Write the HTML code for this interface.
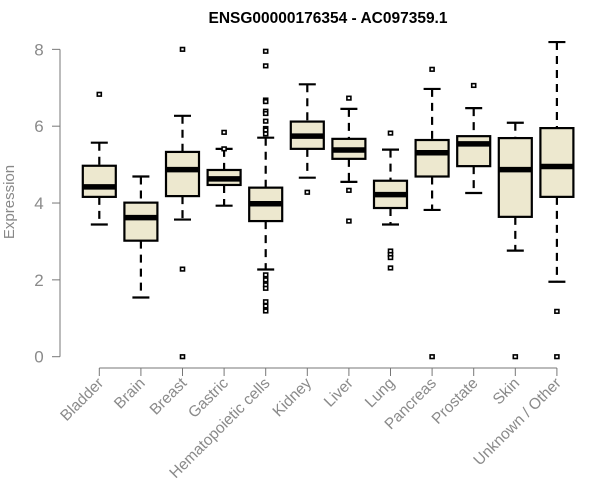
<!DOCTYPE html>
<html><head><meta charset="utf-8"><style>
body{margin:0;background:#fff}
svg{display:block;font-family:"Liberation Sans",Arial,sans-serif}
</style></head><body>
<svg id="chart" width="600" height="500">
<text x="328" y="23" text-anchor="middle" font-weight="bold" font-size="15.5">ENSG00000176354 - AC097359.1</text>
<text transform="translate(14,202) rotate(-90)" text-anchor="middle" font-size="15" fill="#888">Expression</text>
<g id="yaxis"></g>
<g id="xaxis"></g>
<g id="boxes"></g>
</svg>
<script>
const categories=["Bladder","Brain","Breast","Gastric","Hematopoietic cells","Kidney","Liver","Lung","Pancreas","Prostate","Skin","Unknown / Other"];
const whiskerLow=[3.44,1.54,3.57,3.93,2.27,4.66,4.55,3.44,3.82,4.26,2.76,1.95];
const q1=[4.16,3.02,4.18,4.47,3.53,5.41,5.15,3.87,4.69,4.96,3.64,4.16];
const median=[4.42,3.62,4.87,4.63,3.98,5.74,5.38,4.22,5.31,5.54,4.87,4.95];
const q3=[4.97,4.01,5.33,4.86,4.40,6.12,5.67,4.58,5.64,5.74,5.69,5.95];
const whiskerHigh=[5.57,4.69,6.27,5.41,5.70,7.09,6.45,5.39,6.97,6.47,6.09,8.19];
const outliers=[[6.83],[],[8.0,2.28,0],[5.84,5.41],[7.95,7.57,6.68,6.64,6.39,6.33,6.13,5.94,5.9,5.8,2.13,2.0,1.87,1.78,1.43,1.32,1.19],[4.28],[6.73,4.33,3.53],[5.82,2.75,2.66,2.58,2.31],[7.48,0],[7.06],[0],[1.18,0]];
const yTicks=[0,2,4,6,8];
const NS="http://www.w3.org/2000/svg";
const y=v=>356.7-38.42*v;
const x=i=>99.3+41.6*i;
function mk(p,tag,a){const e=document.createElementNS(NS,tag);for(const k in a)e.setAttribute(k,a[k]);p.appendChild(e);return e;}
const ya=document.getElementById('yaxis'),xa=document.getElementById('xaxis'),bx=document.getElementById('boxes');
let l=mk(ya,'line',{x1:60,x2:60,y1:y(0),y2:y(8),stroke:'#777','stroke-width':1});


yTicks.forEach(t=>{
 const tk=mk(ya,'line',{x1:52,x2:60,y1:y(t),y2:y(t),stroke:'#777'});
 
 
 const tx=mk(ya,'text',{x:39,y:y(t)+6,'text-anchor':'middle','font-size':17,fill:'#8a8a8a'});
 tx.textContent=t;
 
 
});
l=mk(xa,'line',{x1:x(0),x2:x(11),y1:368,y2:368,stroke:'#777'});


categories.forEach((c,i)=>{
 const tk=mk(xa,'line',{x1:x(i),x2:x(i),y1:368,y2:376,stroke:'#777'});
 
 
 const tx=mk(xa,'text',{transform:`translate(${x(i)+5},384) rotate(-45)`,'text-anchor':'end','font-size':15.5,fill:'#8a8a8a'});
 tx.textContent=c;
 
 
 const g=mk(bx,'g',{});
 
 
 const cx=x(i);
 mk(g,'line',{x1:cx,x2:cx,y1:y(whiskerHigh[i]),y2:y(q3[i]),stroke:'#000','stroke-width':2.2,'stroke-dasharray':'8,6'});
 mk(g,'line',{x1:cx,x2:cx,y1:y(q1[i]),y2:y(whiskerLow[i]),stroke:'#000','stroke-width':2.2,'stroke-dasharray':'8,6'});
 mk(g,'line',{x1:cx-8.5,x2:cx+8.5,y1:y(whiskerHigh[i]),y2:y(whiskerHigh[i]),stroke:'#000','stroke-width':2.2});
 mk(g,'line',{x1:cx-8.5,x2:cx+8.5,y1:y(whiskerLow[i]),y2:y(whiskerLow[i]),stroke:'#000','stroke-width':2.2});
 mk(g,'rect',{x:cx-16.5,y:y(q3[i]),width:33,height:y(q1[i])-y(q3[i]),fill:'#ede8cf',stroke:'#000','stroke-width':2.2});
 mk(g,'line',{x1:cx-16.5,x2:cx+16.5,y1:y(median[i]),y2:y(median[i]),stroke:'#000','stroke-width':5.5});
 outliers[i].forEach(v=>{
  const o=mk(g,'rect',{x:cx-2,y:y(v)-1.8,width:4,height:3.6,fill:'#fff',stroke:'#000','stroke-width':1.6});
  
  
 });
});
</script>
</body></html>
